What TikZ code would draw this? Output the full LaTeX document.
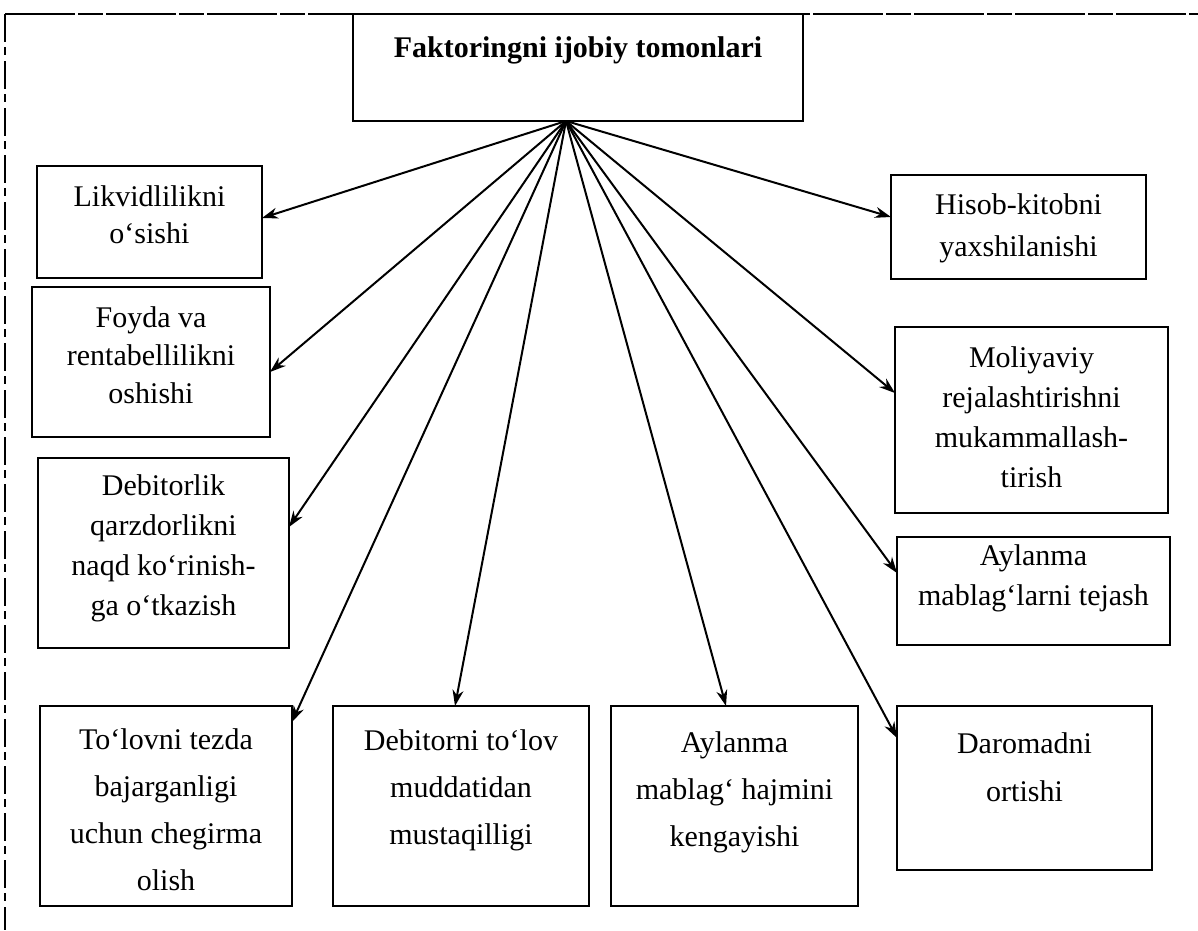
\documentclass[tikz,border=0pt]{standalone}
\usepackage{fontspec}
\setmainfont{Liberation Serif}
\usetikzlibrary{arrows.meta,calc}

% #1 width, #2 height, #3 first baseline below top, #4 line spacing, #5 lines
\newcommand\boxtext[5]{\parbox[t][#2pt][t]{#1pt}{\centering\fontsize{30}{#4}\selectfont\rule{0pt}{#3pt}#5}}

\tikzset{
  cell/.style={draw, line width=2.6pt, inner sep=0pt, outer sep=0pt, anchor=north west},
  arr/.style={line width=2pt, -{Stealth[length=16pt,width=11pt]}},
  frameline/.style={line width=2pt}
}

\begin{document}
\begin{tikzpicture}[x=1pt,y=-1pt]
\useasboundingbox (0,0) rectangle (1198,930);

% outer border (top and left edges)
\draw[frameline, dash pattern=on 70pt off 3pt on 25pt off 3pt] (5,14) -- (1198,14);
\draw[frameline, dash pattern=on 28pt off 5pt on 8pt off 6pt] (5,14) -- (5,930);

% heading
\node[cell] (top) at (353,14)
  {\boxtext{450}{107}{43}{36}{\bfseries Faktoringni ijobiy tomonlari}};

% left column
\node[cell] (b1) at (37,166)
  {\boxtext{225}{112}{40}{37}{Likvidlilikni\\o‘sishi}};
\node[cell] (b2) at (32,287)
  {\boxtext{238}{150}{40}{38}{Foyda va\\rentabellilikni\\oshishi}};
\node[cell] (b3) at (38,458)
  {\boxtext{251}{190}{37}{40}{Debitorlik\\qarzdorlikni\\naqd ko‘rinish-\\ga o‘tkazish}};

% bottom row
\node[cell] (b4) at (40,706)
  {\boxtext{252}{200}{43}{47}{To‘lovni tezda\\bajarganligi\\uchun chegirma\\olish}};
\node[cell] (b5) at (333,706)
  {\boxtext{256}{200}{44}{47}{Debitorni to‘lov\\muddatidan\\mustaqilligi}};
\node[cell] (b6) at (611,706)
  {\boxtext{247}{200}{46}{47}{Aylanma\\mablag‘ hajmini\\kengayishi}};
\node[cell] (b7) at (897,706)
  {\boxtext{255}{164}{47}{48}{Daromadni\\ortishi}};

% right column
\node[cell] (b8) at (891,175)
  {\boxtext{255}{104}{39}{42}{Hisob-kitobni\\yaxshilanishi}};
\node[cell] (b9) at (895,327)
  {\boxtext{273}{186}{40}{40}{Moliyaviy\\rejalashtirishni\\mukammallash-\\tirish}};
\node[cell] (b10) at (897,537)
  {\boxtext{273}{108}{28}{40}{Aylanma\\mablag‘larni tejash}};

% fan of arrows from the heading
\coordinate (src) at ($(top.south west)+(213,0)$);
\draw[arr] (src) -- ($(b1.north east)+(0,52)$);
\draw[arr] (src) -- ($(b2.north east)+(0,85)$);
\draw[arr] (src) -- ($(b3.north east)+(0,69)$);
\draw[arr] (src) -- ($(b4.north east)+(0,16)$);
\draw[arr] (src) -- ($(b5.north west)+(122,0)$);
\draw[arr] (src) -- ($(b6.north west)+(115,0)$);
\draw[arr] (src) -- ($(b7.north west)+(0,32)$);
\draw[arr] (src) -- ($(b8.north west)+(0,42)$);
\draw[arr] (src) -- ($(b9.north west)+(0,66)$);
\draw[arr] (src) -- ($(b10.north west)+(0,36)$);
\end{tikzpicture}
\end{document}
